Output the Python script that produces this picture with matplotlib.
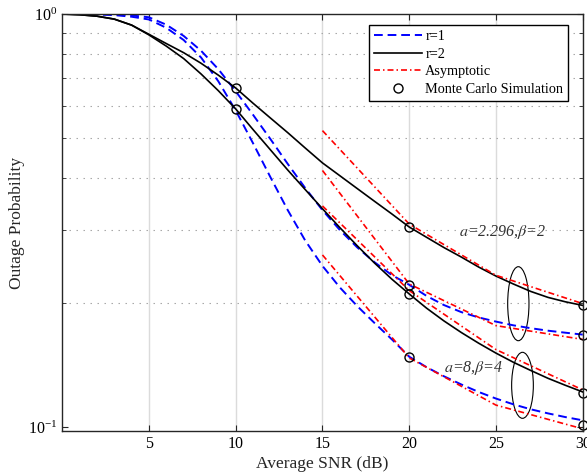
import matplotlib
matplotlib.use("Agg")
import matplotlib.pyplot as plt
import numpy as np
from matplotlib.patches import Ellipse
from matplotlib.ticker import NullFormatter, FixedLocator

# Average SNR grid (dB) for the analytical curves
snr = list(range(0, 31))

# r=2 (black), a=2.296, beta=2
r2_a2 = [1.0, 0.996, 0.988, 0.972, 0.94, 0.893, 0.848, 0.806, 0.76, 0.711, 0.662,
         0.608, 0.56, 0.516, 0.474, 0.436, 0.406, 0.378, 0.352, 0.328, 0.305,
         0.288, 0.272, 0.258, 0.244, 0.232, 0.222, 0.213, 0.206, 0.201, 0.197]
# r=2 (black), a=8, beta=4
r2_a8 = [1.0, 0.996, 0.988, 0.972, 0.94, 0.89, 0.836, 0.78, 0.716, 0.652, 0.589,
         0.525, 0.469, 0.419, 0.376, 0.3377, 0.304, 0.2748, 0.2495, 0.228, 0.210,
         0.194, 0.1807, 0.1694, 0.1596, 0.151, 0.1435, 0.1371, 0.1312, 0.1262, 0.1216]
# r=1 (blue), a=2.296, beta=2
r1_a2 = [1.0, 1.0, 0.999, 0.997, 0.992, 0.982, 0.942, 0.885, 0.815, 0.735, 0.65,
         0.570, 0.498, 0.4335, 0.3793, 0.335, 0.300, 0.2723, 0.2506, 0.2333, 0.221,
         0.2077, 0.1974, 0.1898, 0.1842, 0.180, 0.1763, 0.1735, 0.1711, 0.1692, 0.1674]
# r=1 (blue), a=8, beta=4
r1_a8 = [1.0, 1.0, 0.998, 0.994, 0.985, 0.97, 0.926, 0.865, 0.785, 0.687, 0.584,
         0.4864, 0.4027, 0.335, 0.2831, 0.2455, 0.2178, 0.1963, 0.1786, 0.163, 0.148,
         0.1396, 0.1327, 0.1268, 0.1216, 0.1172, 0.1135, 0.1104, 0.1079, 0.1057, 0.1038]

# asymptotic curves
snr_asym = [15, 20, 25, 30]
asym_r2_a2 = [0.522, 0.31, 0.233, 0.199]
asym_r1_a2 = [0.418, 0.222, 0.176, 0.163]
asym_r2_a8 = [0.343, 0.214, 0.154, 0.123]
asym_r1_a8 = [0.261, 0.147, 0.113, 0.099]

# Monte Carlo points
snr_sim = [10, 20, 30]
sim_r2_a2 = [0.662, 0.305, 0.197]
sim_r2_a8 = [0.589, 0.210, 0.121]
snr_sim_r1 = [20, 30]
sim_r1_a2 = [0.221, 0.167]
sim_r1_a8 = [0.1476, 0.101]

plt.rcParams['font.family'] = ['Liberation Serif', 'DejaVu Serif']
plt.rcParams['mathtext.fontset'] = 'stix'

fig = plt.figure(figsize=(5.87, 4.75), dpi=100)
ax = fig.add_axes([0.106, 0.0926, 0.8867, 0.8779])

blue_dash = dict(color='#0000ff', lw=1.4, dashes=(4.5, 2.5))
black_solid = dict(color='black', lw=1.2)
red_dd = dict(color='#ff0000', lw=1.2, dashes=(3.6, 1.8, 0.9, 1.8))

ax.plot(snr, r1_a2, **blue_dash)
ax.plot(snr, r1_a8, **blue_dash)
ax.plot(snr, r2_a2, **black_solid)
ax.plot(snr, r2_a8, **black_solid)
ax.plot(snr_asym, asym_r2_a2, **red_dd)
ax.plot(snr_asym, asym_r1_a2, **red_dd)
ax.plot(snr_asym, asym_r2_a8, **red_dd)
ax.plot(snr_asym, asym_r1_a8, **red_dd)

mk = dict(ls='none', marker='o', ms=6.5, mfc='none', mec='black', mew=1.0, clip_on=False)
ax.plot(snr_sim, sim_r2_a2, **mk)
ax.plot(snr_sim, sim_r2_a8, **mk)
ax.plot(snr_sim_r1, sim_r1_a2, **mk)
ax.plot(snr_sim_r1, sim_r1_a8, **mk)

# legend proxies
h1, = ax.plot([], [], label='r=1', **blue_dash)
h2, = ax.plot([], [], label='r=2', **black_solid)
h3, = ax.plot([], [], label='Asymptotic', **red_dd)
h4, = ax.plot([], [], ls='none', marker='o', ms=6.5, mfc='none', mec='black',
              label='Monte Carlo Simulation')
leg = ax.legend(handles=[h1, h2, h3, h4], loc='upper right',
                bbox_to_anchor=(0.9723, 0.9736), borderaxespad=0, fontsize=10.3,
                frameon=True, fancybox=False, edgecolor='black', framealpha=1,
                handlelength=3.4, handletextpad=0.2, labelspacing=0.32,
                borderpad=0.35)
leg.get_frame().set_linewidth(1.0)

# ellipses grouping curves
ax.add_patch(Ellipse((0.8763, 0.3053), 0.0409, 0.1775, transform=ax.transAxes,
                     fill=False, ec='black', lw=0.8))
ax.add_patch(Ellipse((0.8843, 0.1096), 0.0417, 0.1583, transform=ax.transAxes,
                     fill=False, ec='black', lw=0.8))
ax.text(0.8469, 0.4784, r'$a$=2.296,$\beta$=2', transform=ax.transAxes,
        ha='center', va='center', fontsize=11.5, style='italic', color='0.2')
ax.text(0.7912, 0.1523, r'$a$=8,$\beta$=4', transform=ax.transAxes,
        ha='center', va='center', fontsize=11.5, style='italic', color='0.2')

ax.set_yscale('log')
ax.set_xlim(0, 30)
ax.set_ylim(0.0978, 1.0)
ax.xaxis.set_major_locator(FixedLocator([5, 10, 15, 20, 25, 30]))
ax.yaxis.set_minor_formatter(NullFormatter())

ax.grid(True, which='major', axis='x', color='0.86', ls='-', lw=1.0)
ax.grid(True, which='minor', axis='y', color='0.65', lw=0.8, dashes=(1.3, 5))
ax.set_axisbelow(True)

ax.tick_params(which='both', direction='in', top=True, right=True, labelsize=11.5,
               color='0.15')
ax.tick_params(which='major', length=4.5)
ax.tick_params(which='minor', length=3)
for s in ax.spines.values():
    s.set_linewidth(1.0)
    s.set_color('0.15')

ax.set_xlabel('Average SNR (dB)', fontsize=12.5, color='0.15', labelpad=3)
ax.set_ylabel('Outage Probability', fontsize=12.5, color='0.15', labelpad=2)

fig.savefig('out.png', dpi=100)
